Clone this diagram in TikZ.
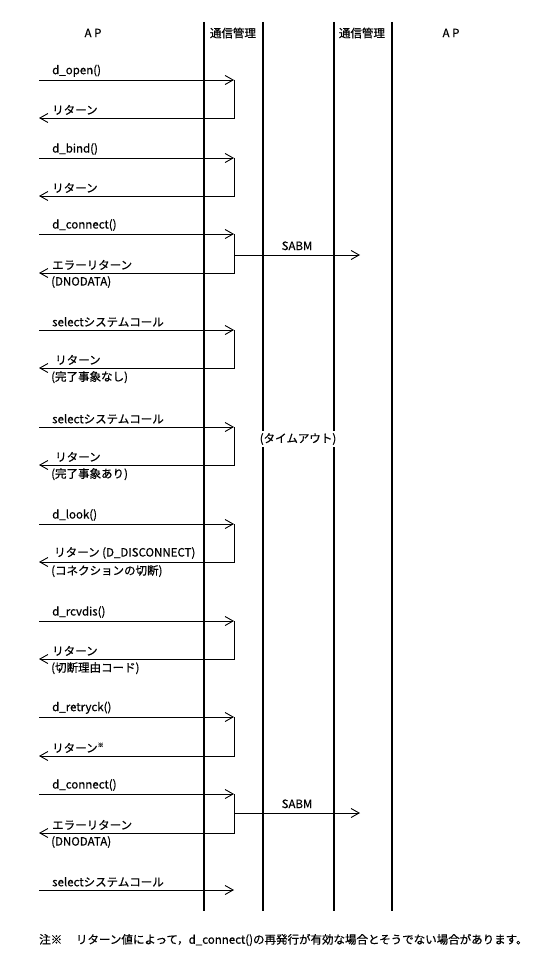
\documentclass[tikz,border=0pt]{standalone}
\usepackage{fontspec}
\setmainfont{Noto Sans CJK JP}[FakeBold=0.6]
\usepackage{tikz}
\usetikzlibrary{arrows.meta,positioning,calc}

\begin{document}
\begin{tikzpicture}[x=1pt,y=-1pt,font=\fontsize{11.5}{13}\selectfont,
  lifeline/.style={line width=2pt},
  msg/.style={line width=0.9pt,-{Straight Barb[length=8pt,width=9pt]}},
  above label/.style={anchor=south west,inner sep=1pt},
  below label/.style={anchor=north west,inner sep=1pt}]
\useasboundingbox (0,0) rectangle (539,960);
\foreach \name/\x in {apl/204,ccl/263,ccr/334,apr/392}{
  \coordinate (\name top) at (\x,22);
  \coordinate (\name bot) at (\x,911);
  \draw[lifeline] (\name top) -- (\name bot);
}
\node (aphead) at (93,33) {A P};
\node (cchead) at (233,33) {通信管理};
\node (ccheadr) at (362,33) {通信管理};
\node (apheadr) at (451,33) {A P};
\foreach \i/\yc/\yr in {1/80/118,2/158/196,3/234/273,4/330/368,5/427/465,6/524/562,7/621/659,8/717/756,9/794/833}{
  \coordinate (call\i) at (39,\yc);
  \coordinate (recv\i) at (234,\yc);
  \coordinate (ret\i) at (39,\yr);
  \draw[msg] (call\i) -- (recv\i);
  \draw[msg] (recv\i) |- (ret\i);
}
\coordinate (call10) at (39,890);
\coordinate (recv10) at (234,890);
\draw[msg] (call10) -- (recv10);
% SABM
\coordinate (sabm3) at (360,255);
\coordinate (sabm9) at (360,813);
\draw[msg] (recv3 |- sabm3) -- (sabm3) node[midway,above=1pt] (sabmlbl3) {SABM};
\draw[msg] (recv9 |- sabm9) -- (sabm9) node[midway,above=1pt] (sabmlbl9) {SABM};
% labels
\node[above label] (lc1) at (51,78) {d\_open()};
\node[above label] (lr1) at (51,116) {リターン};
\node[above label] (lc2) at (51,156) {d\_bind()};
\node[above label] (lr2) at (51,194) {リターン};
\node[above label] (lc3) at (51,232) {d\_connect()};
\node[above label] (lr3) at (51,271) {エラーリターン};
\node[below label] (le3) at (50,275) {(DNODATA)};
\node[above label] (lc4) at (51,328) {selectシステムコール};
\node[above label] (lr4) at (54,366) {リターン};
\node[below label] (le4) at (50,370) {(完了事象なし)};
\node[above label] (lc5) at (51,425) {selectシステムコール};
\node[above label] (lr5) at (54,463) {リターン};
\node[below label] (le5) at (50,467) {(完了事象あり)};
\node[fill=white,inner xsep=1pt,inner ysep=2pt] (timeout) at (298,439) {(タイムアウト)};
\node[above label] (lc6) at (51,522) {d\_look()};
\node[above label] (lr6) at (53,560) {リターン (D\_DISCONNECT)};
\node[below label] (le6) at (50,564) {(コネクションの切断)};
\node[above label] (lc7) at (51,619) {d\_rcvdis()};
\node[above label] (lr7) at (51,657) {リターン};
\node[below label] (le7) at (50,661) {(切断理由コード)};
\node[above label] (lc8) at (51,715) {d\_retryck()};
\node[above label] (lr8) at (51,754) {リターン\raisebox{0.45em}{\fontsize{6}{6}\selectfont ※}};
\node[above label] (lc9) at (51,792) {d\_connect()};
\node[above label] (lr9) at (51,831) {エラーリターン};
\node[below label] (le9) at (50,835) {(DNODATA)};
\node[above label] (lc10) at (51,888) {selectシステムコール};
\node[anchor=west,inner sep=0pt] (note) at (39,940) {注※\hspace{1.2em}リターン値によって，d\_connect()の再発行が有効な場合とそうでない場合があります。};
\end{tikzpicture}
\end{document}
